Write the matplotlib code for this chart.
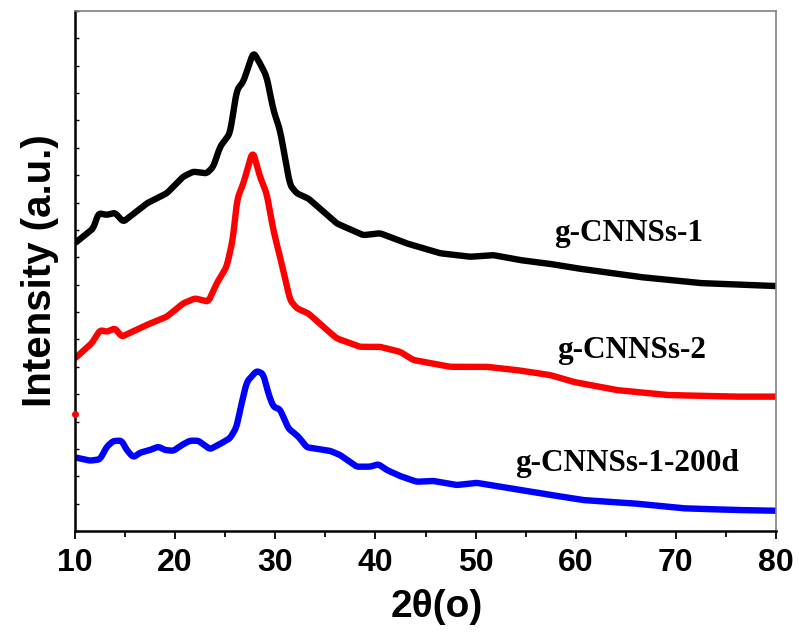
import matplotlib
matplotlib.use("Agg")
import matplotlib.pyplot as plt
import numpy as np

# XRD patterns (2theta in degrees, intensity in arbitrary offset units)
tt_cnns1 = [10.0, 11.83, 12.33, 13.17, 13.99, 14.82, 17.16, 19.16, 20.81, 21.81,
            23.15, 23.81, 24.48, 25.48, 26.15, 26.81, 27.81, 28.47, 29.14, 29.80,
            30.47, 31.47, 32.14, 33.30, 34.80, 36.13, 38.79, 40.46, 43.12, 46.45,
            49.44, 51.77, 54.44, 57.10, 60.10, 66.42, 72.41, 80.0]
int_cnns1 = [10.52, 11.06, 11.61, 11.55, 11.63, 11.30, 11.97, 12.34, 12.95, 13.13,
             13.07, 13.31, 14.04, 14.53, 16.11, 16.42, 17.50, 17.09, 16.60, 15.39,
             14.65, 12.64, 12.34, 12.15, 11.67, 11.24, 10.81, 10.88, 10.51, 10.15,
             10.02, 10.08, 9.90, 9.78, 9.60, 9.28, 9.06, 8.95]

tt_cnns2 = [10.0, 11.67, 12.50, 13.17, 13.99, 14.66, 17.16, 19.16, 20.81, 21.98,
            23.31, 24.15, 25.15, 25.81, 26.15, 26.81, 27.75, 28.47, 29.14, 29.80,
            30.47, 31.47, 32.14, 33.30, 34.80, 36.13, 38.46, 40.46, 42.45, 43.78,
            47.45, 51.11, 54.11, 57.43, 59.76, 64.09, 69.09, 75.74, 80.0]
int_cnns2 = [6.31, 6.86, 7.34, 7.28, 7.41, 7.10, 7.53, 7.83, 8.32, 8.50,
             8.38, 9.05, 9.66, 10.75, 12.09, 12.70, 13.90, 12.94, 12.34, 11.00,
             10.02, 8.44, 8.14, 7.95, 7.46, 7.04, 6.73, 6.73, 6.55, 6.25,
             6.00, 6.00, 5.88, 5.70, 5.45, 5.15, 4.97, 4.91, 4.91]
# stray point at the start of the g-CNNSs-2 scan
tt_cnns2_stray = [10.0]
int_cnns2_stray = [4.27]

tt_cnns1_200d = [10.0, 11.50, 12.50, 13.17, 13.82, 14.66, 15.16, 15.82, 16.49, 17.49,
                 18.32, 18.99, 19.82, 20.65, 21.48, 22.31, 23.48, 24.48, 25.48, 26.15,
                 26.48, 27.15, 28.14, 28.80, 29.30, 29.80, 30.47, 31.30, 32.30, 33.14,
                 35.46, 36.46, 38.13, 39.46, 40.29, 41.13, 42.45, 44.12, 45.78, 48.12,
                 50.11, 52.44, 56.43, 60.76, 65.75, 70.74, 75.74, 80.0]
int_cnns1_200d = [2.69, 2.57, 2.62, 3.08, 3.29, 3.30, 2.96, 2.69, 2.86, 2.96,
                  3.08, 2.96, 2.93, 3.14, 3.30, 3.30, 2.99, 3.18, 3.39, 3.81,
                  4.42, 5.45, 5.85, 5.74, 5.03, 4.54, 4.45, 3.75, 3.45, 3.06,
                  2.93, 2.78, 2.35, 2.35, 2.44, 2.23, 2.01, 1.80, 1.83, 1.68,
                  1.76, 1.62, 1.38, 1.13, 1.01, 0.83, 0.77, 0.74]

labels = ["g-CNNSs-1", "g-CNNSs-2", "g-CNNSs-1-200d"]
x_ticks = [10, 20, 30, 40, 50, 60, 70, 80]


def smooth(x, y, n=800):
    xs = np.linspace(x[0], x[-1], n)
    ys = np.interp(xs, x, y)
    k = 5
    ker = np.ones(k) / k
    pad = np.pad(ys, k // 2, mode="edge")
    return xs, np.convolve(pad, ker, mode="valid")


fig = plt.figure(figsize=(7.99, 6.37), dpi=100)
ax = fig.add_axes([0.0939, 0.1664, 0.9712 - 0.0939, 0.9827 - 0.1664])

lw = 4.6
for tt, it, col in [(tt_cnns1, int_cnns1, "black"),
                    (tt_cnns2, int_cnns2, "#ff0000"),
                    (tt_cnns1_200d, int_cnns1_200d, "#0000ff")]:
    xs, ys = smooth(tt, it)
    ax.plot(xs, ys, color=col, lw=lw, solid_capstyle="round", solid_joinstyle="round")
ax.plot(tt_cnns2_stray, int_cnns2_stray, "o", color="#ff0000", mec="#ff0000", ms=4,
        clip_on=False, zorder=5)

ax.set_xlim(10, 80)
ax.set_ylim(0, 19)
ax.set_xticks(x_ticks)
ax.set_xticks(np.arange(15, 80, 10), minor=True)
ax.set_yticks(np.arange(0, 20, 1))
ax.set_yticklabels([])

ax.tick_params(axis="x", which="major", direction="out", length=6, width=1.3, pad=6,
               labelsize=23)
ax.tick_params(axis="x", which="minor", direction="out", length=4, width=1.3)
ax.tick_params(axis="y", which="major", direction="in", length=3, width=1.0)
for lab in ax.get_xticklabels():
    lab.set_fontfamily("Liberation Sans")
    lab.set_fontweight("bold")

ax.spines["left"].set_linewidth(1.8)
ax.spines["bottom"].set_linewidth(1.8)
for s in ["top", "right"]:
    ax.spines[s].set_color("#808080")
    ax.spines[s].set_linewidth(1.2)

fig.text(437 / 799, 1 - 607 / 637, "2θ(o)", fontsize=28, fontweight="bold",
         family="Liberation Sans", ha="center", va="center")
ax.set_ylabel("Intensity (a.u.)", fontsize=29, fontweight="bold", family="Liberation Sans",
              labelpad=8)

label_pos = [(629, 234), (632, 350), (627, 463)]
for text, (px, py) in zip(labels, label_pos):
    fig.text(px / 799, 1 - py / 637, text, fontsize=22.5, fontweight="bold",
             family="Liberation Serif", ha="center", va="center")

fig.savefig("out.png", dpi=100)
